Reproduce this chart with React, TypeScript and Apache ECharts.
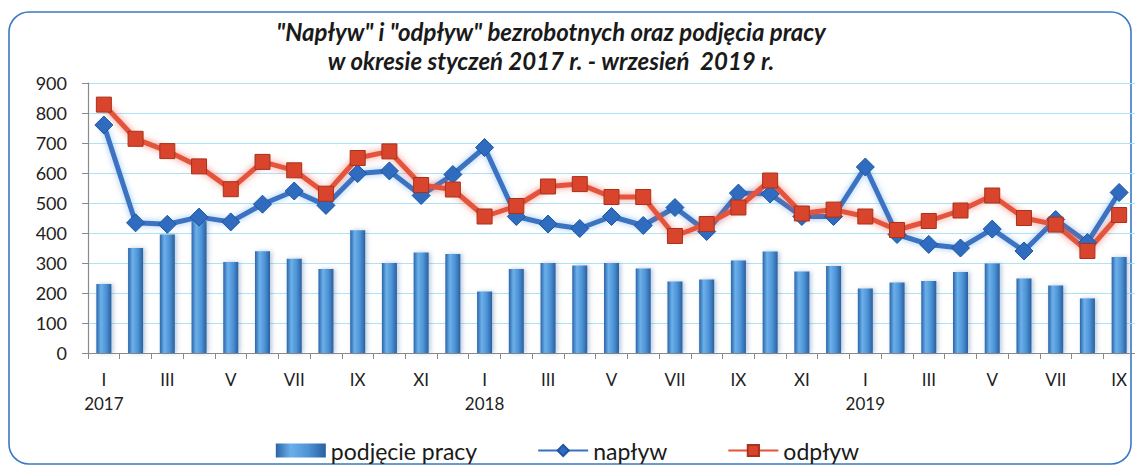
import React, { useEffect, useRef } from "react";
import * as echarts from "echarts";

const months: string[] = [
  "I", "II", "III", "IV", "V", "VI", "VII", "VIII", "IX", "X", "XI", "XII",
  "I", "II", "III", "IV", "V", "VI", "VII", "VIII", "IX", "X", "XI", "XII",
  "I", "II", "III", "IV", "V", "VI", "VII", "VIII", "IX",
];
const years: string[] = [
  "2017", "", "", "", "", "", "", "", "", "", "", "",
  "2018", "", "", "", "", "", "", "", "", "", "", "",
  "2019", "", "", "", "", "", "", "", "",
];

const podjeciePracy: number[] = [
  230, 350, 395, 440, 303, 339, 314, 280, 409, 300, 335, 330,
  205, 280, 300, 292, 300, 282, 238, 245, 308, 338, 272, 290,
  215, 235, 240, 270, 298, 248, 225, 182, 320,
];
const naplyw: number[] = [
  760, 434, 429, 453, 437, 496, 540, 492, 598, 607, 525, 595,
  685, 455, 430, 415, 455, 425, 485, 405, 533, 530, 455, 455,
  620, 395, 362, 350, 413, 340, 445, 368, 535,
];
const odplyw: number[] = [
  828, 714, 673, 622, 546, 637, 609, 531, 650, 672, 560, 545,
  455, 490, 555, 563, 520, 520, 390, 430, 485, 575, 465, 478,
  455, 410, 440, 475, 525, 450, 428, 340, 460,
];

const yTicks = { min: 0, max: 900, interval: 100 };

const titleLines = [
  "\"Napływ\" i \"odpływ\" bezrobotnych oraz podjęcia pracy",
  "w okresie styczeń 2017 r. - wrzesień\u00a0 2019 r.",
];

const FONT = "Lato, 'Noto Sans', sans-serif";

export default function App() {
  const ref = useRef<HTMLDivElement>(null);
  useEffect(() => {
    document.body.style.margin = "0";
    if (!ref.current) return;
    const chart = echarts.init(ref.current, undefined, { renderer: "svg" });
    const categories = months.map((m, i) => (years[i] ? `${m}\n${years[i]}` : m));
    const barGrad = new echarts.graphic.LinearGradient(0, 0, 1, 0, [
      { offset: 0, color: "#2a64a8" },
      { offset: 0.3, color: "#6cb0ea" },
      { offset: 0.65, color: "#4d93d6" },
      { offset: 1, color: "#28609f" },
    ]);
    const titleStyle = {
      fontFamily: FONT,
      fontSize: 24,
      fontWeight: "bold",
      fontStyle: "italic",
      fill: "#1a1a1a",
      align: "center",
      verticalAlign: "middle",
    };
    chart.setOption({
      animation: false,
      backgroundColor: "#ffffff",
      textStyle: { fontFamily: FONT },
      graphic: [
        {
          type: "rect",
          shape: { x: 9, y: 12, width: 1122, height: 452, r: 20 },
          style: { fill: "none", stroke: "#3b78c4", lineWidth: 1.6 },
          z: -1,
        },
        { type: "text", x: 551, y: 31, style: { ...titleStyle, text: titleLines[0] } },
        { type: "text", x: 551, y: 60, style: { ...titleStyle, text: titleLines[1] } },
      ],
      legend: {
        bottom: 1,
        left: "center",
        itemWidth: 50,
        itemHeight: 14,
        itemGap: 60,
        textStyle: { fontSize: 23, color: "#1a1a1a", fontFamily: FONT },
        data: [
          { name: "podjęcie pracy", icon: "rect" },
          { name: "napływ" },
          { name: "odpływ" },
        ],
      },
      grid: { left: 88, right: -1, top: 83, bottom: 115 },
      xAxis: {
        type: "category",
        data: categories,
        boundaryGap: true,
        axisLine: { show: true, lineStyle: { color: "#8a8a8a", width: 1.2 } },
        axisTick: { show: true, interval: 0, length: 6, lineStyle: { color: "#8a8a8a" } },
        axisLabel: {
          interval: 1,
          margin: 14,
          fontSize: 17,
          lineHeight: 24,
          color: "#222",
          fontFamily: FONT,
        },
        splitLine: { show: false },
      },
      yAxis: {
        type: "value",
        min: yTicks.min,
        max: yTicks.max,
        interval: yTicks.interval,
        axisLine: { show: true, lineStyle: { color: "#8a8a8a", width: 1.2 } },
        axisTick: { show: true, length: 6, lineStyle: { color: "#8a8a8a" } },
        axisLabel: { fontSize: 18, color: "#222", margin: 21, fontFamily: FONT },
        splitLine: { show: true, lineStyle: { color: "#ace4f5", width: 1 } },
      },
      series: [
        {
          name: "podjęcie pracy",
          type: "bar",
          data: podjeciePracy,
          barWidth: 15,
          itemStyle: {
            color: barGrad,
            shadowColor: "rgba(60,100,160,0.35)",
            shadowBlur: 4,
            shadowOffsetX: 2,
          },
        },
        {
          name: "napływ",
          type: "line",
          data: naplyw,
          symbol: "diamond",
          symbolSize: 18,
          lineStyle: {
            color: "#3a72c2",
            width: 5,
            shadowColor: "rgba(90,160,230,0.6)",
            shadowBlur: 6,
          },
          itemStyle: { color: "#2f6cc0", borderColor: "#1f55a0", borderWidth: 1 },
        },
        {
          name: "odpływ",
          type: "line",
          data: odplyw,
          symbol: "rect",
          symbolSize: 15,
          lineStyle: {
            color: "#e4533b",
            width: 5,
            shadowColor: "rgba(240,90,70,0.7)",
            shadowBlur: 7,
          },
          itemStyle: { color: "#d8442c", borderColor: "#a8321c", borderWidth: 1 },
        },
      ],
    });
    return () => chart.dispose();
  }, []);
  return <div ref={ref} style={{ width: 1135, height: 468 }} />;
}
